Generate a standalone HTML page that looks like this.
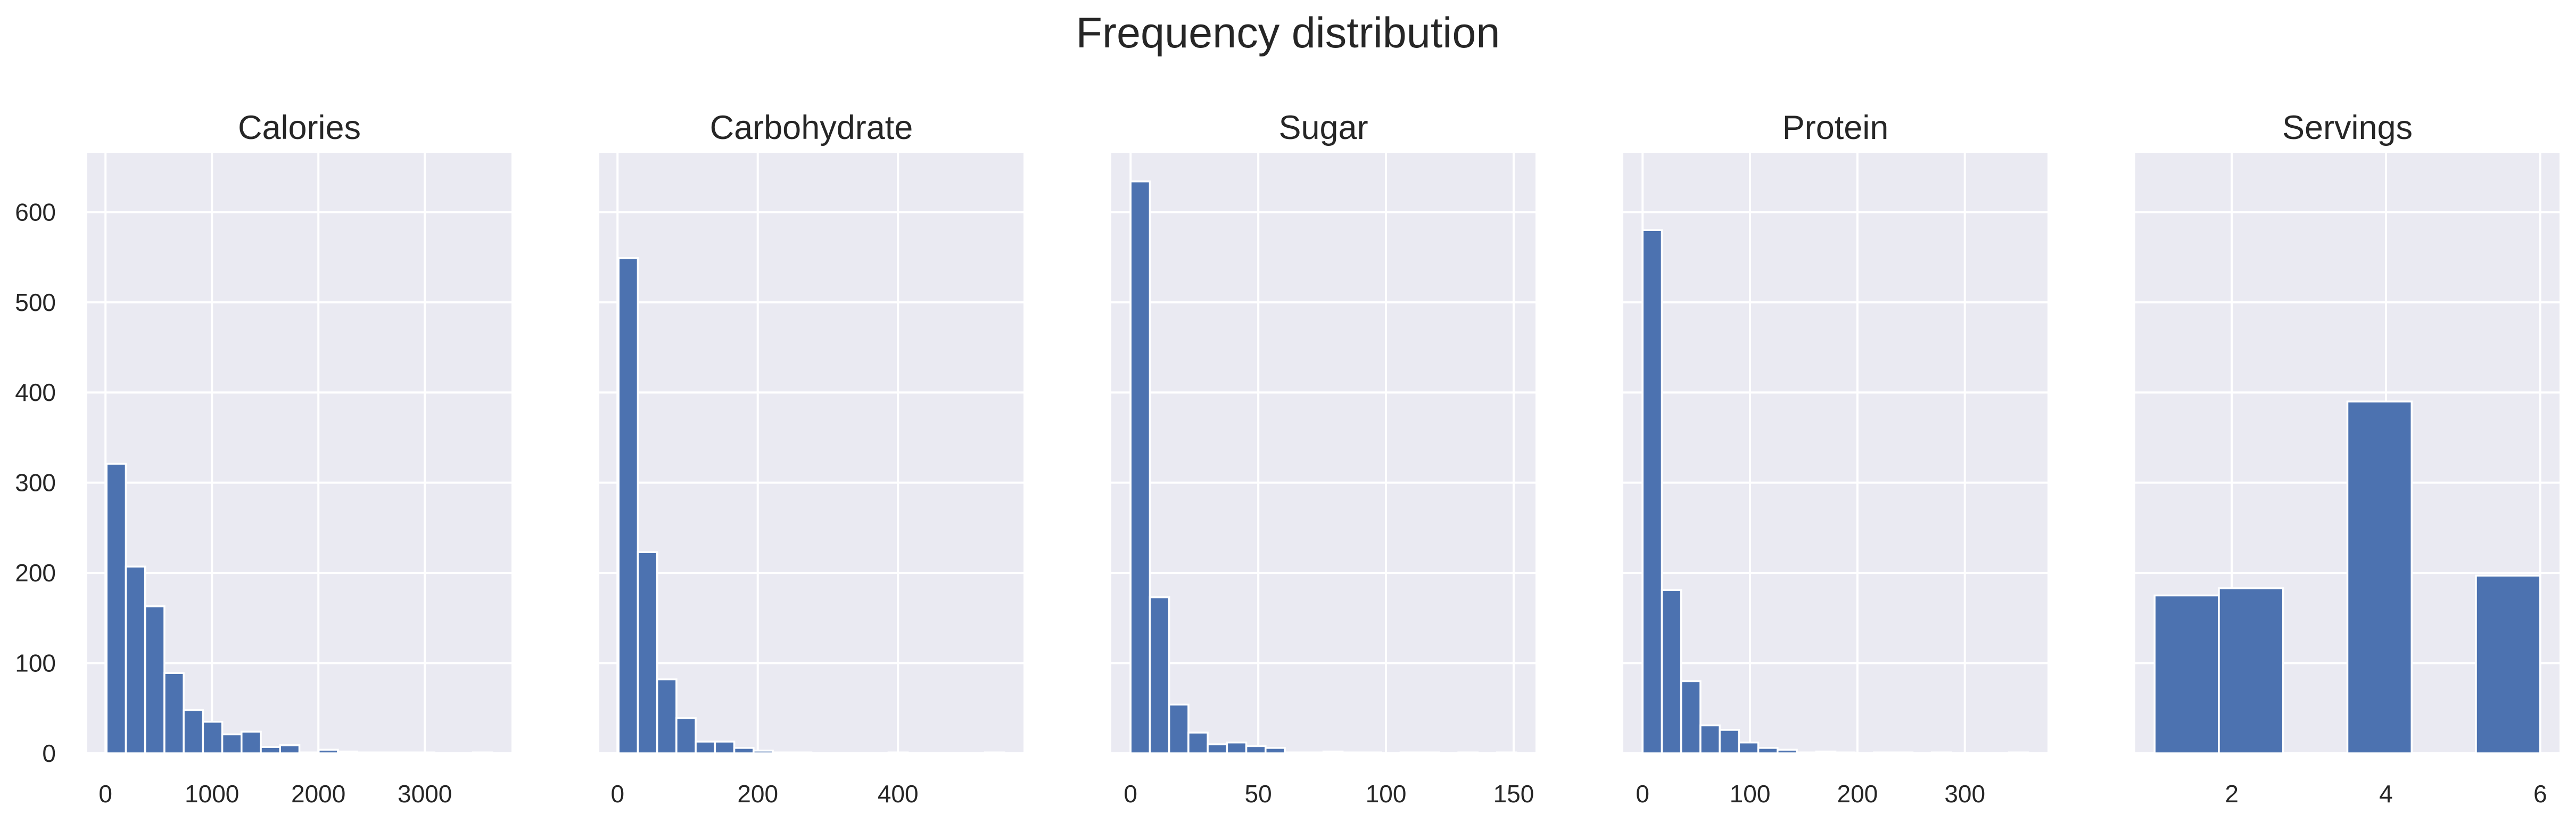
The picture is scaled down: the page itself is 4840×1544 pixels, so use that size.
<!DOCTYPE html>
<html><head><meta charset="utf-8">
<style>
html,body{margin:0;padding:0;background:#fff;}
svg{display:block;font-family:"Liberation Sans",Arial,sans-serif;}
</style></head>
<body>
<svg id="fig" width="4840" height="1544" viewBox="0 0 4840 1544" xmlns="http://www.w3.org/2000/svg">
<rect width="4840" height="1544" fill="#ffffff"/>
<text x="2420" y="89" font-size="81" text-anchor="middle" fill="#262626">Frequency distribution</text>
</svg>
<script>
const titles = ["Calories","Carbohydrate","Sugar","Protein","Servings"];
const binMins = [10, 1.5, 0, 0, 1];
const binMaxs = [3633, 551.5, 151, 359, 6];
const caloriesCounts = [321,207,163,89,48,35,21,24,7,9,1,4,2,1,1,1,1,0,0,1];
const carbohydrateCounts = [549,223,82,39,13,13,6,3,1,1,0,0,0,0,1,0,0,0,0,1];
const sugarCounts = [634,173,54,23,10,12,8,6,1,1,2,1,1,0,1,1,0,1,0,1];
const proteinCounts = [580,181,80,31,26,12,6,4,1,2,1,0,1,1,0,1,0,0,0,1];
const servingsCounts = [175,183,0,390,0,197];
const xTicks = [[0,1000,2000,3000],[0,200,400],[0,50,100,150],[0,100,200,300],[2,4,6]];
const yTicks = [0,100,200,300,400,500,600];
const yMax = 665.7;

const allCounts = [caloriesCounts, carbohydrateCounts, sugarCounts, proteinCounts, servingsCounts];
const NS = "http://www.w3.org/2000/svg";
const svg = document.getElementById("fig");
const axLefts = [164,1126,2088,3050,4012];
const axW = 797, axTop = 287, axBottom = 1415;
function mk(tag, attrs, parent){ const e=document.createElementNS(NS,tag); for(const k in attrs) e.setAttribute(k,attrs[k]); (parent||svg).appendChild(e); return e; }
function yScale(v){ return axBottom - v/yMax*(axBottom-axTop); }

for(let p=0;p<5;p++){
  const L = axLefts[p];
  const mn = binMins[p], mx = binMaxs[p], R = mx-mn;
  const x0 = mn-0.05*R, x1 = mx+0.05*R;
  const xs = v => L + (v-x0)/(x1-x0)*axW;
  const g = mk("g",{});
  
  
  const bg = mk("rect",{x:L,y:axTop,width:axW,height:axBottom-axTop,fill:"#EAEAF2"},g);
  
  
  yTicks.forEach(t=>{
    const ln = mk("line",{x1:L,x2:L+axW,y1:yScale(t),y2:yScale(t),stroke:"#fff","stroke-width":4},g);
    
    
    if(p===0){
      const tx = mk("text",{x:105,y:yScale(t)+16,"font-size":46,"text-anchor":"end",fill:"#262626"},g);
      
      
      tx.textContent = t;
    }
  });
  xTicks[p].forEach(t=>{
    const ln = mk("line",{x1:xs(t),x2:xs(t),y1:axTop,y2:axBottom,stroke:"#fff","stroke-width":4},g);
    
    
    const tx = mk("text",{x:xs(t),y:1507,"font-size":46,"text-anchor":"middle",fill:"#262626"},g);
    
    
    tx.textContent = t;
  });
  const counts = allCounts[p];
  const bw = R/counts.length;
  counts.forEach((c,i)=>{
    const a = xs(mn+i*bw), b = xs(mn+(i+1)*bw);
    const r = mk("rect",{x:a,y:yScale(c),width:b-a,height:axBottom-yScale(c),fill:"#4C72B0",stroke:"#fff","stroke-width":3.5},g);
    
    
  });
  const tt = mk("text",{x:L+axW/2,y:261,"font-size":63,"text-anchor":"middle",fill:"#262626"},g);
  
  
  tt.textContent = titles[p];
}
</script>
</body></html>
